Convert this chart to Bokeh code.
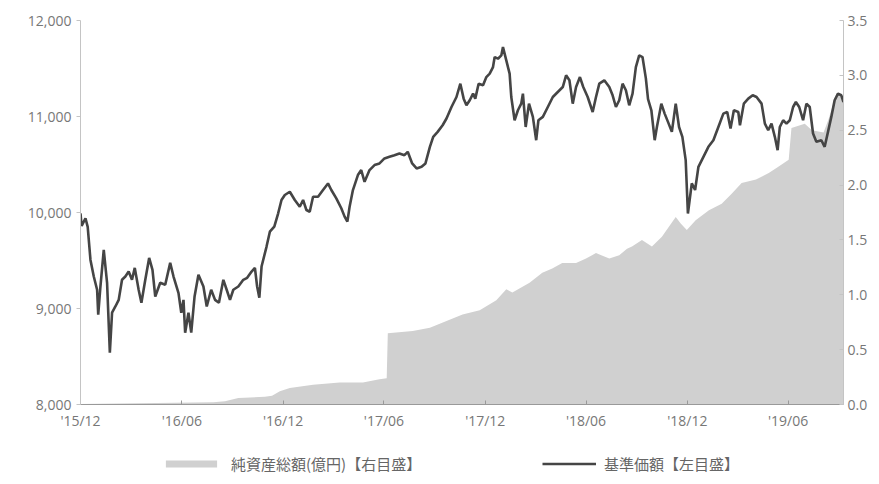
import pandas as pd
from bokeh.plotting import figure
from bokeh.layouts import column
from bokeh.models import (Range1d, LinearAxis, FixedTicker, NumeralTickFormatter,
                          DatetimeTickFormatter, Legend, LegendItem, ColumnDataSource)
from bokeh.embed import file_html
from bokeh.resources import INLINE

# ---- 基準価額 (left axis, 円) ----
nav_dates = [
    "2015-12-01", "2015-12-03", "2015-12-10", "2015-12-14", "2015-12-19", "2015-12-25", "2015-12-31",
    "2016-01-02", "2016-01-06", "2016-01-12", "2016-01-18", "2016-01-23", "2016-01-27", "2016-02-02",
    "2016-02-08", "2016-02-14", "2016-02-20", "2016-02-26", "2016-03-03", "2016-03-08", "2016-03-15",
    "2016-03-20", "2016-03-27", "2016-04-03", "2016-04-09", "2016-04-14", "2016-04-23", "2016-05-02",
    "2016-05-11", "2016-05-17", "2016-05-26", "2016-05-31", "2016-06-04", "2016-06-07", "2016-06-13",
    "2016-06-18", "2016-06-24", "2016-07-01", "2016-07-10", "2016-07-16", "2016-07-24", "2016-07-31",
    "2016-08-07", "2016-08-15", "2016-08-21", "2016-08-27", "2016-09-02", "2016-09-11", "2016-09-20",
    "2016-09-27", "2016-10-05", "2016-10-11", "2016-10-15", "2016-10-19", "2016-10-23", "2016-11-01",
    "2016-11-07", "2016-11-15", "2016-11-22", "2016-11-28", "2016-12-04", "2016-12-13", "2016-12-22",
    "2016-12-31", "2017-01-06", "2017-01-12", "2017-01-18", "2017-01-24", "2017-02-02", "2017-02-11",
    "2017-02-20", "2017-02-26", "2017-03-07", "2017-03-16", "2017-03-22", "2017-03-27", "2017-03-31",
    "2017-04-06", "2017-04-15", "2017-04-21", "2017-04-27", "2017-05-06", "2017-05-15", "2017-05-24",
    "2017-06-02", "2017-06-11", "2017-06-20", "2017-06-29", "2017-07-08", "2017-07-14", "2017-07-22",
    "2017-07-30", "2017-08-08", "2017-08-15", "2017-08-23", "2017-08-29", "2017-09-06", "2017-09-15",
    "2017-09-22", "2017-10-01", "2017-10-10", "2017-10-17", "2017-10-23", "2017-10-28", "2017-11-03",
    "2017-11-09", "2017-11-13", "2017-11-19", "2017-11-27", "2017-12-03", "2017-12-09", "2017-12-15",
    "2017-12-18", "2017-12-24", "2017-12-30", "2018-01-02", "2018-01-08", "2018-01-14", "2018-01-17",
    "2018-01-23", "2018-01-29", "2018-02-04", "2018-02-07", "2018-02-12", "2018-02-18", "2018-02-25",
    "2018-03-03", "2018-03-07", "2018-03-15", "2018-03-24", "2018-04-02", "2018-04-11", "2018-04-20",
    "2018-04-26", "2018-05-02", "2018-05-08", "2018-05-14", "2018-05-21", "2018-05-27", "2018-06-04",
    "2018-06-13", "2018-06-19", "2018-06-25", "2018-07-04", "2018-07-13", "2018-07-19", "2018-07-25",
    "2018-07-31", "2018-08-06", "2018-08-12", "2018-08-18", "2018-08-24", "2018-08-30", "2018-09-05",
    "2018-09-11", "2018-09-17", "2018-09-21", "2018-09-27", "2018-10-03", "2018-10-07", "2018-10-15",
    "2018-10-21", "2018-10-27", "2018-11-03", "2018-11-10", "2018-11-16", "2018-11-22", "2018-11-28",
    "2018-12-02", "2018-12-09", "2018-12-15", "2018-12-21", "2018-12-30", "2019-01-08", "2019-01-17",
    "2019-01-26", "2019-02-04", "2019-02-11", "2019-02-17", "2019-02-23", "2019-03-03", "2019-03-06",
    "2019-03-13", "2019-03-21", "2019-03-29", "2019-04-05", "2019-04-14", "2019-04-20", "2019-04-26",
    "2019-05-02", "2019-05-08", "2019-05-13", "2019-05-17", "2019-05-23", "2019-05-29", "2019-06-04",
    "2019-06-10", "2019-06-15", "2019-06-21", "2019-06-28", "2019-07-04", "2019-07-10", "2019-07-16",
    "2019-07-22", "2019-07-31", "2019-08-06", "2019-08-12", "2019-08-18", "2019-08-24", "2019-08-30",
    "2019-09-05", "2019-09-09",
]
nav_values = [
    9990, 9860, 9940, 9850, 9506, 9333, 9195,
    8935, 9229, 9610, 9268, 8540, 8956, 9021,
    9090, 9299, 9333, 9385, 9299, 9423, 9195,
    9060, 9299, 9527, 9403, 9125, 9268, 9247,
    9475, 9333, 9160, 8956, 9090, 8748, 8956,
    8748, 9125, 9351, 9229, 9021, 9195, 9090,
    9060, 9299, 9195, 9090, 9195, 9229, 9299,
    9320, 9385, 9423, 9229, 9112, 9437, 9645,
    9800, 9853, 9992, 10130, 10182, 10216, 10130,
    10060, 10130, 10026, 10008, 10164, 10164, 10234,
    10303, 10234, 10147, 10044, 9957, 9905, 10060,
    10234, 10390, 10442, 10320, 10442, 10494, 10511,
    10563, 10580, 10597, 10615, 10597, 10632, 10511,
    10459, 10476, 10511, 10684, 10788, 10840, 10909,
    10979, 11099, 11203, 11342, 11186, 11117, 11169,
    11238, 11186, 11342, 11325, 11411, 11446, 11515,
    11619, 11602, 11636, 11723, 11584, 11446, 11203,
    10961, 11065, 11134, 11238, 10891, 11134, 10996,
    10753, 10961, 10996, 11099, 11203, 11255, 11307,
    11429, 11377, 11134, 11307, 11411, 11307, 11203,
    11047, 11203, 11342, 11377, 11307, 11221, 11099,
    11169, 11342, 11273, 11117, 11238, 11515, 11636,
    11619, 11400, 11180, 11065, 10753, 10891, 11134,
    11030, 10944, 10840, 11134, 10891, 10788, 10545,
    9990, 10303, 10234, 10476, 10580, 10684, 10753,
    10891, 11030, 11047, 10875, 11065, 11047, 10909,
    11134, 11186, 11221, 11203, 11134, 10926, 10857,
    10926, 10788, 10649, 10891, 10961, 10926, 10961,
    11099, 11151, 11099, 10961, 11134, 11099, 10823,
    10736, 10753, 10684, 10840, 10996, 11169, 11238,
    11221, 11151,
]

# ---- 純資産総額 (right axis, 億円) ----
aum_dates = [
    "2015-12-01", "2016-07-28", "2016-08-18", "2016-09-11", "2016-10-29", "2016-11-11", "2016-11-25",
    "2016-12-13", "2017-01-24", "2017-03-13", "2017-04-24", "2017-05-24", "2017-06-06", "2017-06-08",
    "2017-07-23", "2017-08-23", "2017-09-22", "2017-10-21", "2017-11-21", "2017-12-21", "2018-01-08",
    "2018-01-19", "2018-02-19", "2018-03-14", "2018-04-01", "2018-04-19", "2018-05-14", "2018-06-01",
    "2018-06-19", "2018-07-13", "2018-07-31", "2018-08-14", "2018-08-23", "2018-09-10", "2018-09-28",
    "2018-10-16", "2018-11-10", "2018-11-19", "2018-11-30", "2018-12-16", "2019-01-09", "2019-02-01",
    "2019-02-19", "2019-03-09", "2019-04-04", "2019-04-27", "2019-05-15", "2019-06-02", "2019-06-07",
    "2019-07-01", "2019-07-14", "2019-08-04", "2019-08-13", "2019-08-22", "2019-08-31", "2019-09-09",
]
aum_values = [
    0.005, 0.02, 0.03, 0.06, 0.07, 0.08, 0.12,
    0.15, 0.18, 0.20, 0.20, 0.23, 0.24, 0.65,
    0.67, 0.70, 0.76, 0.82, 0.86, 0.95, 1.05,
    1.02, 1.11, 1.20, 1.24, 1.29, 1.29, 1.33,
    1.38, 1.33, 1.36, 1.42, 1.44, 1.50, 1.44,
    1.53, 1.71, 1.65, 1.59, 1.68, 1.77, 1.83,
    1.92, 2.02, 2.05, 2.11, 2.17, 2.23, 2.52,
    2.56, 2.50, 2.48, 2.60, 2.75, 2.82, 2.80,
]

tick_dates = ["2015-12-01", "2016-06-01", "2016-12-01", "2017-06-01",
              "2017-12-01", "2018-06-01", "2018-12-01", "2019-06-01"]
left_ticks = [8000, 9000, 10000, 11000, 12000]
right_ticks = [0.0, 0.5, 1.0, 1.5, 2.0, 2.5, 3.0, 3.5]

label_nav = "基準価額【左目盛】"
label_aum = "純資産総額(億円)【右目盛】"

nav_src = ColumnDataSource(dict(x=pd.to_datetime(nav_dates), y=nav_values))
aum_src = ColumnDataSource(dict(x=pd.to_datetime(aum_dates), y=aum_values))

x_start = pd.Timestamp("2015-12-01")
x_end = pd.Timestamp("2019-09-09")

AREA_COL = "#d0d0d0"
LINE_COL = "#454545"
FONT = "Open Sans"
AX_COL = "#c4c4c4"
LBL_COL = "#777777"
W = 871

main = figure(width=W, height=432, output_backend="svg", toolbar_location=None,
              x_axis_type="datetime",
              x_range=Range1d(x_start, x_end), y_range=Range1d(8000, 12000),
              min_border_left=80, min_border_right=28, min_border_top=20, min_border_bottom=27)
main.extra_y_ranges = {"aum": Range1d(0, 3.5)}

main.varea(x="x", y1=0, y2="y", source=aum_src, y_range_name="aum",
           fill_color=AREA_COL, fill_alpha=1.0)
main.line(x="x", y="y", source=nav_src, line_color=LINE_COL, line_width=2.6)

main.grid.visible = False
main.outline_line_color = None

# x axis
xa = main.xaxis[0]
xa.ticker = FixedTicker(ticks=[pd.Timestamp(d).value // 10**6 for d in tick_dates])
fmt = "'%y/%m"
xa.formatter = DatetimeTickFormatter(days=fmt, months=fmt, years=fmt, hours=fmt, minutes=fmt)
xa.axis_line_color = "#999999"
xa.major_tick_line_color = "#999999"
xa.major_tick_in = 4
xa.major_tick_out = 0
xa.minor_tick_line_color = None
xa.major_label_text_font = FONT
xa.major_label_text_font_size = "14px"
xa.major_label_text_color = LBL_COL
xa.major_label_standoff = 6

# left axis
ya = main.yaxis[0]
ya.ticker = FixedTicker(ticks=left_ticks)
ya.formatter = NumeralTickFormatter(format="0,0")
ya.axis_line_color = AX_COL
ya.major_tick_line_color = AX_COL
ya.major_tick_in = 0
ya.major_tick_out = 4
ya.minor_tick_line_color = None
ya.major_label_text_font = FONT
ya.major_label_text_font_size = "14px"
ya.major_label_text_color = LBL_COL
ya.major_label_standoff = 5

# right axis
ra = LinearAxis(y_range_name="aum", ticker=FixedTicker(ticks=right_ticks),
                formatter=NumeralTickFormatter(format="0.0"))
ra.axis_line_color = AX_COL
ra.major_tick_line_color = AX_COL
ra.major_tick_in = 4
ra.major_tick_out = 0
ra.minor_tick_line_color = None
ra.major_label_text_font = FONT
ra.major_label_text_font_size = "14px"
ra.major_label_text_color = LBL_COL
ra.major_label_standoff = 4
main.add_layout(ra, "right")

# ---- legend strip (same data sources; the data lies outside this strip's range) ----
leg = figure(width=W, height=44, output_backend="svg", toolbar_location=None,
             x_range=Range1d(0, 1), y_range=Range1d(0, 1),
             x_axis_location=None, y_axis_location=None,
             min_border_left=0, min_border_right=0, min_border_top=0, min_border_bottom=0)
leg.grid.visible = False
leg.outline_line_color = None
leg_area = leg.varea(x="x", y1=0, y2="y", source=aum_src, fill_color=AREA_COL, fill_alpha=1.0)
leg_line = leg.line(x="x", y="y", source=nav_src, line_color=LINE_COL, line_width=2.6)

common = dict(orientation="horizontal", label_text_font="Noto Sans CJK JP",
              label_text_font_size="15px", label_text_color="#666666",
              border_line_color=None, background_fill_alpha=0,
              margin=0, padding=0)
leg1 = Legend(items=[LegendItem(label=label_aum, renderers=[leg_area])],
              location=(79, 2), glyph_width=64, glyph_height=9, label_standoff=8, **common)
leg2 = Legend(items=[LegendItem(label=label_nav, renderers=[leg_line])],
              location=(462, 2), glyph_width=54, glyph_height=7, label_standoff=8, **common)
leg.add_layout(leg1, "center")
leg.add_layout(leg2, "center")

p = column(main, leg, spacing=0)

open("out.html", "w").write(file_html(p, INLINE))
